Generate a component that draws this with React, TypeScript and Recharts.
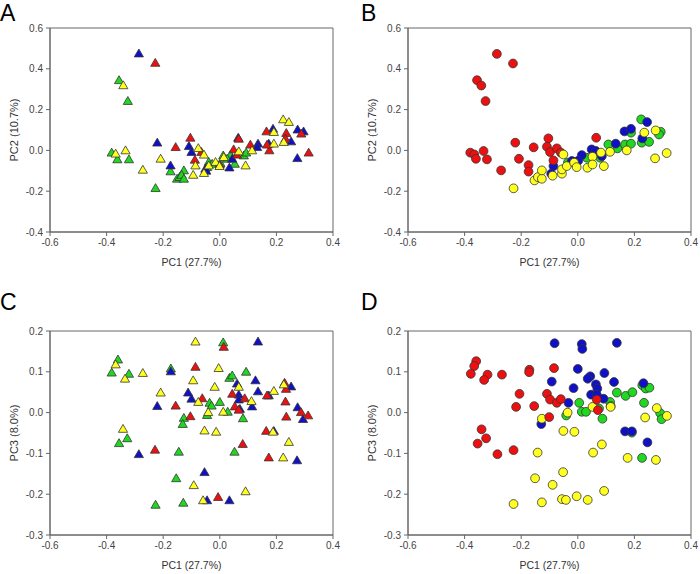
import { ScatterChart, Scatter, XAxis, YAxis, ReferenceArea } from "recharts"

// tick values
const pc1Ticks = [-0.6, -0.4, -0.2, 0, 0.2, 0.4]
const pc2Ticks = [-0.4, -0.2, 0, 0.2, 0.4, 0.6]
const pc3Ticks = [-0.3, -0.2, -0.1, 0, 0.1, 0.2]

// panel A: PC1 vs PC2, triangles
const aGreen = [
  [-0.356, 0.344], [-0.325, 0.242], [-0.382, -0.011], [-0.362, -0.044], [-0.321, -0.044],
  [-0.227, -0.185], [-0.174, -0.103], [-0.151, -0.139], [-0.142, -0.131], [-0.127, -0.098],
  [-0.135, -0.12], [-0.127, -0.139], [-0.039, -0.057], [-0.027, -0.066], [-0.045, -0.082],
  [0.002, -0.062], [0.012, -0.025], [0.038, -0.021], [0.026, -0.041], [0.053, -0.066],
  [0.085, -0.025], [0.093, -0.011],
]
const aYellow = [
  [-0.341, 0.319], [-0.368, -0.016], [-0.333, 0.0], [-0.272, -0.095], [-0.209, -0.041],
  [-0.076, 0.011], [-0.056, -0.021], [-0.086, -0.074], [-0.094, -0.12], [-0.056, -0.111],
  [-0.039, -0.074], [-0.015, -0.057], [-0.001, -0.077], [0.014, -0.033], [0.067, -0.005],
  [0.114, 0.0], [0.091, -0.074], [0.191, 0.09], [0.191, 0.033], [0.224, 0.152],
  [0.244, 0.139], [0.226, 0.041],
]
const aRed = [
  [-0.228, 0.429], [-0.104, 0.062], [-0.156, 0.016], [-0.065, -0.008], [-0.088, -0.046],
  [0.067, 0.057], [0.049, 0.005], [0.061, -0.021], [0.108, 0.028], [0.165, 0.093],
  [0.175, 0.0], [0.167, 0.028], [0.235, 0.085], [0.232, 0.057], [0.288, 0.082],
  [0.314, -0.011], [0.0, -0.07],
]
const aBlue = [
  [-0.286, 0.475], [-0.221, 0.038], [-0.174, -0.074], [-0.109, 0.021], [-0.1, -0.008],
  [-0.051, -0.09], [-0.048, -0.1], [0.065, 0.062], [0.034, -0.084], [0.044, -0.041],
  [0.135, 0.033], [0.132, 0.016], [0.173, 0.033], [0.188, 0.106], [0.275, 0.102],
  [0.296, 0.093], [0.252, 0.044], [0.274, -0.038],
]

// panel B: PC1 vs PC2, circles
const bRed = [
  [-0.286, 0.473], [-0.229, 0.426], [-0.356, 0.344], [-0.341, 0.318], [-0.326, 0.242],
  [-0.38, -0.011], [-0.366, -0.02], [-0.36, -0.041], [-0.333, -0.003], [-0.321, -0.044],
  [-0.271, -0.098], [-0.221, 0.038], [-0.208, -0.041], [-0.174, -0.072], [-0.174, -0.104],
  [-0.156, 0.015], [-0.104, 0.059], [-0.109, 0.018], [-0.098, -0.008], [-0.074, 0.01],
  [-0.06, -0.011], [-0.086, -0.049], [0.065, 0.062],
]
const bGreen = [
  [-0.035, -0.06], [-0.015, -0.057], [0.032, -0.036], [0.079, -0.036], [0.108, 0.029],
  [0.14, 0.01], [0.167, 0.029], [0.188, 0.033], [0.188, 0.087], [0.224, 0.152],
  [0.226, 0.038], [0.252, 0.042], [0.293, 0.091], [0.287, 0.078],
]
const bBlue = [
  [-0.086, -0.077], [-0.094, -0.114], [0.014, -0.023], [0.049, 0.005], [0.064, -0.003],
  [0.085, -0.028], [0.134, 0.033], [0.165, 0.093], [0.188, 0.106], [0.245, 0.139],
  [0.228, 0.059], [-0.021, -0.052], [0.002, -0.05],
]
const bYellow = [
  [-0.227, -0.186], [-0.153, -0.147], [-0.141, -0.131], [-0.127, -0.139], [-0.127, -0.098],
  [-0.089, -0.124], [-0.056, -0.114], [-0.056, -0.093], [-0.051, -0.02], [-0.039, -0.077],
  [-0.013, -0.06], [-0.004, -0.082], [0.034, -0.085], [0.052, -0.031], [0.052, -0.069],
  [0.082, -0.011], [0.092, -0.077], [0.114, -0.007], [0.173, 0.0], [0.235, 0.087],
  [0.275, 0.098], [0.273, -0.039], [0.314, -0.013],
]

// panel C: PC1 vs PC3, triangles
const cYellow = [
  [-0.086, 0.174], [-0.368, 0.118], [-0.335, 0.083], [-0.272, 0.097], [-0.209, 0.049],
  [-0.094, 0.079], [-0.004, 0.109], [-0.018, 0.063], [-0.076, 0.026], [-0.041, 0.001],
  [0.012, 0.002], [0.067, 0.063], [0.112, 0.028], [0.191, 0.053], [0.226, 0.069],
  [-0.342, -0.04], [-0.054, -0.044], [-0.013, -0.047], [0.188, -0.047], [0.244, -0.072],
  [0.224, -0.11], [-0.092, -0.178], [-0.059, -0.215], [0.091, -0.193],
]
const cGreen = [
  [-0.36, 0.13], [-0.382, 0.098], [-0.321, 0.095], [-0.173, 0.108], [0.012, 0.172],
  [0.034, 0.085], [0.044, 0.091], [0.093, 0.1], [-0.036, 0.024], [-0.029, 0.017],
  [0.0, 0.026], [0.028, 0.002], [-0.045, -0.006], [-0.127, -0.013], [-0.131, -0.028],
  [0.082, -0.014], [-0.356, -0.075], [-0.327, -0.063], [-0.145, -0.096], [0.052, -0.096],
  [-0.154, -0.161], [-0.227, -0.226], [-0.129, -0.221],
]
const cRed = [
  [0.014, 0.161], [-0.086, 0.112], [-0.062, 0.035], [-0.156, 0.017], [-0.104, -0.009],
  [0.044, 0.046], [0.088, 0.035], [0.053, 0.015], [0.067, 0.007], [0.167, 0.042],
  [0.229, 0.073], [0.234, 0.058], [0.232, 0.027], [0.287, 0.001], [0.312, -0.007],
  [0.235, -0.01], [0.164, -0.045], [0.081, -0.077], [-0.229, -0.091], [0.173, -0.11],
  [-0.006, -0.207],
]
const cBlue = [
  [0.135, 0.174], [-0.173, 0.101], [-0.112, 0.049], [-0.1, 0.034], [-0.221, 0.016],
  [0.061, 0.071], [0.067, 0.044], [0.067, 0.032], [0.071, 0.009], [0.126, 0.079],
  [0.135, 0.052], [0.114, 0.015], [0.173, 0.042], [0.252, 0.064], [0.275, 0.013],
  [0.294, -0.016], [0.191, -0.045], [-0.286, -0.102], [-0.054, -0.146], [-0.045, -0.215],
  [0.034, -0.215], [0.273, -0.117],
]

// panel D: PC1 vs PC3, circles
const dBlue = [
  [-0.082, 0.17], [0.014, 0.168], [0.016, 0.156], [0.138, 0.171], [0.0, 0.107],
  [0.094, 0.097], [0.044, 0.089], [0.035, 0.083], [-0.092, 0.076], [-0.015, 0.06],
  [0.064, 0.069], [0.069, 0.059], [0.128, 0.075], [0.232, 0.072], [0.047, 0.044],
  [0.067, 0.044], [0.091, 0.034], [-0.033, 0.024], [-0.129, -0.028], [0.167, -0.046],
  [0.191, -0.046], [0.246, -0.073],
]
const dRed = [
  [-0.359, 0.126], [-0.366, 0.114], [-0.378, 0.095], [-0.319, 0.093], [-0.331, 0.08],
  [-0.268, 0.093], [-0.171, 0.105], [-0.172, 0.099], [-0.084, 0.109], [-0.206, 0.046],
  [-0.109, 0.046], [-0.218, 0.014], [-0.154, 0.016], [-0.098, 0.032], [-0.074, 0.024],
  [-0.06, 0.033], [-0.101, -0.011], [-0.34, -0.041], [-0.324, -0.063], [-0.354, -0.076],
  [-0.284, -0.102], [-0.227, -0.092],
]
const dGreen = [
  [0.005, 0.024], [-0.041, -0.007], [0.014, 0.002], [0.029, 0.002], [0.075, 0.01],
  [0.087, -0.015], [0.114, 0.026], [0.116, 0.016], [0.138, 0.049], [0.169, 0.041],
  [0.193, 0.05], [0.228, 0.067], [0.24, 0.059], [0.253, 0.061], [0.234, 0.024],
  [0.291, -0.001], [0.296, -0.016], [0.191, -0.049], [0.227, -0.111],
]
const dYellow = [
  [-0.127, -0.015], [-0.036, 0.0], [0.052, 0.014], [0.116, 0.014], [0.279, 0.011],
  [0.315, -0.008], [0.238, -0.012], [-0.051, -0.045], [-0.012, -0.047], [-0.142, -0.098],
  [0.054, -0.098], [0.085, -0.078], [0.176, -0.111], [0.276, -0.116], [-0.052, -0.146],
  [-0.151, -0.161], [-0.089, -0.177], [-0.227, -0.224], [-0.127, -0.22], [-0.056, -0.212],
  [-0.042, -0.214], [-0.004, -0.205], [0.035, -0.214], [0.093, -0.192],
]
// red points in D that sit in the middle cluster
const dRedMid = [[0.067, 0.032], [0.071, 0.006]]

const RED = "#ee1010"
const GREEN = "#20d820"
const BLUE = "#1010c8"
const YELLOW = "#ffff20"

const font = "'Liberation Sans', Arial, sans-serif"

const toPts = (arr: number[][]) => arr.map(([x, y]) => ({ x, y }))

const Triangle = (props: any) => {
  const { cx, cy, fill } = props
  if (cx == null || cy == null) return null
  const pts = `${cx},${cy - 4.5} ${cx - 4.6},${cy + 3.4} ${cx + 4.6},${cy + 3.4}`
  return <polygon points={pts} fill={fill} stroke="#333" strokeWidth={0.8} />
}

const Dot = (props: any) => {
  const { cx, cy, fill } = props
  if (cx == null || cy == null) return null
  return <circle cx={cx} cy={cy} r={4.4} fill={fill} stroke="#333" strokeWidth={0.8} />
}

interface PanelProps {
  letter: string
  letterX: number
  letterY: number
  left: number
  top: number
  yLabel: string
  yTicks: number[]
  shape: "triangle" | "circle"
  series: { data: number[][]; color: string }[]
}

function Panel({ letter, letterX, letterY, left, top, yLabel, yTicks, shape, series }: PanelProps) {
  const yMin = yTicks[0]
  const yMax = yTicks[yTicks.length - 1]
  const tickStyle = { fontSize: 10, fill: "#444", fontFamily: font }
  return (
    <>
      <div style={{ position: "absolute", left, top, width: 350, height: 275 }}>
        <ScatterChart width={350} height={275} margin={{ top: 28, right: 17, bottom: 0, left: 0 }}>
          <XAxis
            type="number"
            dataKey="x"
            domain={[-0.6, 0.4]}
            ticks={pc1Ticks}
            tickFormatter={(v: number) => v.toFixed(1)}
            tick={tickStyle}
            tickSize={4}
            tickMargin={3}
            stroke="#666"
            height={43}
            allowDataOverflow
            label={{ value: "PC1 (27.7%)", position: "insideBottom", offset: 9, style: { fontSize: 10.5, fill: "#333", fontFamily: font } }}
          />
          <YAxis
            type="number"
            dataKey="y"
            domain={[yMin, yMax]}
            ticks={yTicks}
            tickFormatter={(v: number) => v.toFixed(1)}
            tick={tickStyle}
            tickSize={4}
            tickMargin={3}
            stroke="#666"
            width={50}
            allowDataOverflow
            label={{ value: yLabel, angle: -90, position: "insideLeft", offset: 14, style: { textAnchor: "middle", fontSize: 11, fill: "#333", fontFamily: font } }}
          />
          <ReferenceArea x1={-0.6} x2={0.4} y1={yMin} y2={yMax} fill="none" stroke="#666" strokeWidth={1} ifOverflow="visible" />
          {series.map((s, i) => (
            <Scatter
              key={i}
              data={toPts(s.data)}
              fill={s.color}
              shape={shape === "triangle" ? Triangle : Dot}
              isAnimationActive={false}
            />
          ))}
        </ScatterChart>
      </div>
      <div
        style={{
          position: "absolute",
          left: letterX,
          top: letterY,
          fontSize: 23,
          lineHeight: "26px",
          fontFamily: font,
          color: "#000",
        }}
      >
        {letter}
      </div>
    </>
  )
}

export default function App() {
  return (
    <div style={{ position: "absolute", left: 0, top: 0, width: 700, height: 574, background: "#fff" }}>
      <Panel
        letter="A"
        letterX={0}
        letterY={0}
        left={0}
        top={0}
        yLabel="PC2 (10.7%)"
        yTicks={pc2Ticks}
        shape="triangle"
        series={[
          { data: aGreen, color: GREEN },
          { data: aBlue, color: BLUE },
          { data: aRed, color: RED },
          { data: aYellow, color: YELLOW },
        ]}
      />
      <Panel
        letter="B"
        letterX={361}
        letterY={0}
        left={358}
        top={0}
        yLabel="PC2 (10.7%)"
        yTicks={pc2Ticks}
        shape="circle"
        series={[
          { data: bGreen, color: GREEN },
          { data: bBlue, color: BLUE },
          { data: bRed, color: RED },
          { data: bYellow, color: YELLOW },
        ]}
      />
      <Panel
        letter="C"
        letterX={0}
        letterY={289}
        left={0}
        top={303}
        yLabel="PC3 (8.0%)"
        yTicks={pc3Ticks}
        shape="triangle"
        series={[
          { data: cGreen, color: GREEN },
          { data: cBlue, color: BLUE },
          { data: cRed, color: RED },
          { data: cYellow, color: YELLOW },
        ]}
      />
      <Panel
        letter="D"
        letterX={361}
        letterY={289}
        left={358}
        top={303}
        yLabel="PC3 (8.0%)"
        yTicks={pc3Ticks}
        shape="circle"
        series={[
          { data: dGreen, color: GREEN },
          { data: dBlue, color: BLUE },
          { data: dYellow, color: YELLOW },
          { data: dRed, color: RED },
          { data: dRedMid, color: RED },
        ]}
      />
    </div>
  )
}
